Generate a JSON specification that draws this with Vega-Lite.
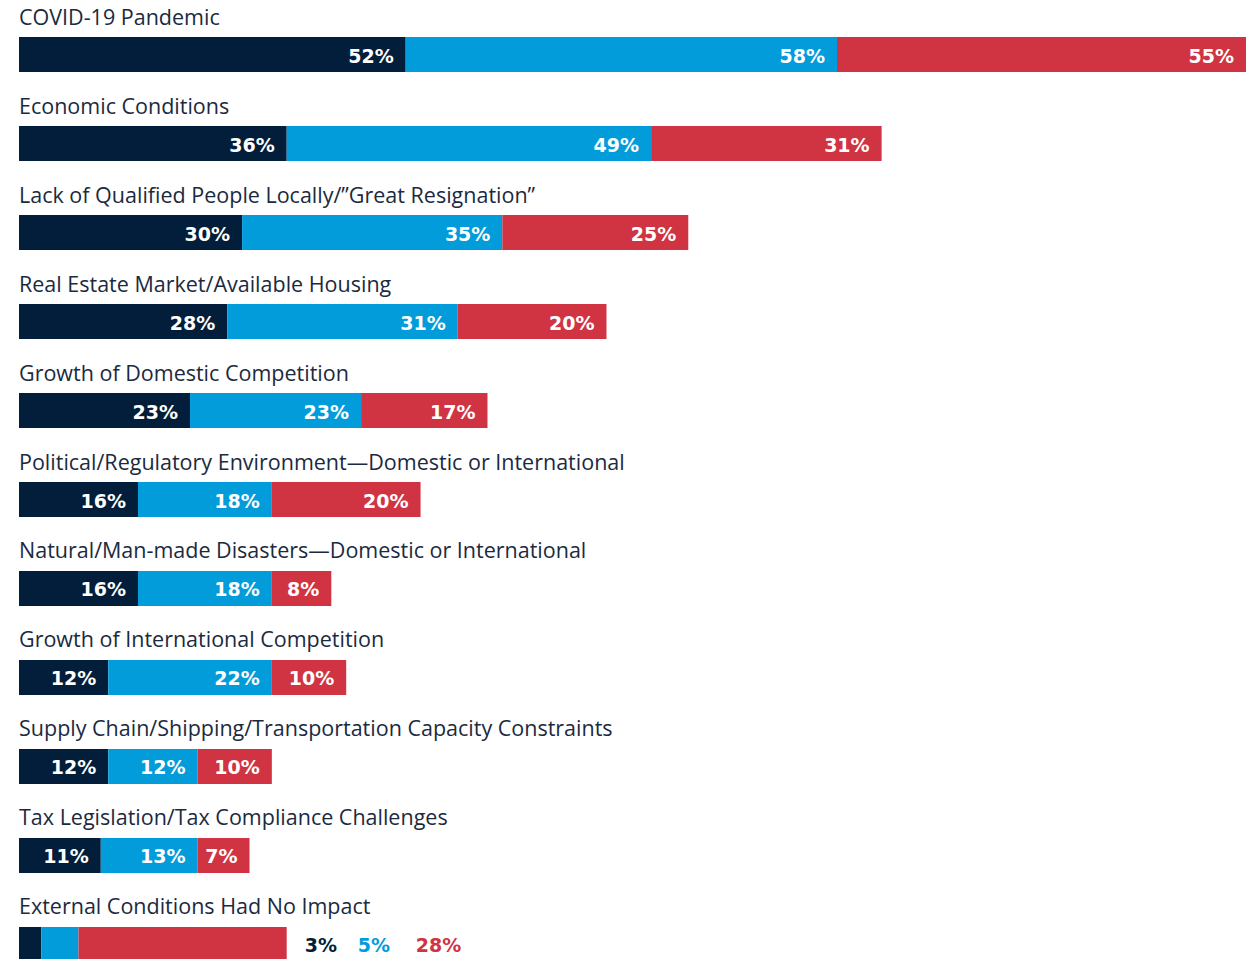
{
  "$schema": "https://vega.github.io/schema/vega-lite/v6.json",
  "width": 1227,
  "height": 999,
  "autosize": {"type": "none"},
  "padding": {"left": 19, "top": 0, "right": 0, "bottom": 0},
  "background": "white",
  "config": {"view": {"stroke": null}},
  "data": {
    "values": [
      {"category": "COVID-19 Pandemic", "series": "Series 1", "order": 1, "value": 52, "inside": true},
      {"category": "COVID-19 Pandemic", "series": "Series 2", "order": 2, "value": 58, "inside": true},
      {"category": "COVID-19 Pandemic", "series": "Series 3", "order": 3, "value": 55, "inside": true},
      {"category": "Economic Conditions", "series": "Series 1", "order": 1, "value": 36, "inside": true},
      {"category": "Economic Conditions", "series": "Series 2", "order": 2, "value": 49, "inside": true},
      {"category": "Economic Conditions", "series": "Series 3", "order": 3, "value": 31, "inside": true},
      {"category": "Lack of Qualified People Locally/\u201dGreat Resignation\u201d", "series": "Series 1", "order": 1, "value": 30, "inside": true},
      {"category": "Lack of Qualified People Locally/\u201dGreat Resignation\u201d", "series": "Series 2", "order": 2, "value": 35, "inside": true},
      {"category": "Lack of Qualified People Locally/\u201dGreat Resignation\u201d", "series": "Series 3", "order": 3, "value": 25, "inside": true},
      {"category": "Real Estate Market/Available Housing", "series": "Series 1", "order": 1, "value": 28, "inside": true},
      {"category": "Real Estate Market/Available Housing", "series": "Series 2", "order": 2, "value": 31, "inside": true},
      {"category": "Real Estate Market/Available Housing", "series": "Series 3", "order": 3, "value": 20, "inside": true},
      {"category": "Growth of Domestic Competition", "series": "Series 1", "order": 1, "value": 23, "inside": true},
      {"category": "Growth of Domestic Competition", "series": "Series 2", "order": 2, "value": 23, "inside": true},
      {"category": "Growth of Domestic Competition", "series": "Series 3", "order": 3, "value": 17, "inside": true},
      {"category": "Political/Regulatory Environment\u2014Domestic or International", "series": "Series 1", "order": 1, "value": 16, "inside": true},
      {"category": "Political/Regulatory Environment\u2014Domestic or International", "series": "Series 2", "order": 2, "value": 18, "inside": true},
      {"category": "Political/Regulatory Environment\u2014Domestic or International", "series": "Series 3", "order": 3, "value": 20, "inside": true},
      {"category": "Natural/Man-made Disasters\u2014Domestic or International", "series": "Series 1", "order": 1, "value": 16, "inside": true},
      {"category": "Natural/Man-made Disasters\u2014Domestic or International", "series": "Series 2", "order": 2, "value": 18, "inside": true},
      {"category": "Natural/Man-made Disasters\u2014Domestic or International", "series": "Series 3", "order": 3, "value": 8, "inside": true},
      {"category": "Growth of International Competition", "series": "Series 1", "order": 1, "value": 12, "inside": true},
      {"category": "Growth of International Competition", "series": "Series 2", "order": 2, "value": 22, "inside": true},
      {"category": "Growth of International Competition", "series": "Series 3", "order": 3, "value": 10, "inside": true},
      {"category": "Supply Chain/Shipping/Transportation Capacity Constraints", "series": "Series 1", "order": 1, "value": 12, "inside": true},
      {"category": "Supply Chain/Shipping/Transportation Capacity Constraints", "series": "Series 2", "order": 2, "value": 12, "inside": true},
      {"category": "Supply Chain/Shipping/Transportation Capacity Constraints", "series": "Series 3", "order": 3, "value": 10, "inside": true},
      {"category": "Tax Legislation/Tax Compliance Challenges", "series": "Series 1", "order": 1, "value": 11, "inside": true},
      {"category": "Tax Legislation/Tax Compliance Challenges", "series": "Series 2", "order": 2, "value": 13, "inside": true},
      {"category": "Tax Legislation/Tax Compliance Challenges", "series": "Series 3", "order": 3, "value": 7, "inside": true},
      {"category": "External Conditions Had No Impact", "series": "Series 1", "order": 1, "value": 3, "inside": false},
      {"category": "External Conditions Had No Impact", "series": "Series 2", "order": 2, "value": 5, "inside": false},
      {"category": "External Conditions Had No Impact", "series": "Series 3", "order": 3, "value": 28, "inside": false}
    ]
  },
  "transform": [
    {"stack": "value", "groupby": ["category"], "sort": [{"field": "order"}], "as": ["x0", "x1"]},
    {"joinaggregate": [{"op": "sum", "field": "value", "as": "total"}], "groupby": ["category"]},
    {"calculate": "datum.value + '%'", "as": "label"}
  ],
  "encoding": {
    "y": {
      "field": "category",
      "type": "nominal",
      "sort": null,
      "axis": null,
      "scale": {"paddingInner": 0.607, "paddingOuter": 0.416}
    }
  },
  "layer": [
    {
      "mark": {"type": "bar"},
      "encoding": {
        "x": {"field": "x0", "type": "quantitative", "axis": null, "scale": {"domain": [0, 165], "nice": false, "zero": true}},
        "x2": {"field": "x1"},
        "color": {
          "field": "series",
          "type": "nominal",
          "legend": null,
          "scale": {"domain": ["Series 1", "Series 2", "Series 3"], "range": ["#031e3a", "#029cdb", "#d03442"]}
        }
      }
    },
    {
      "transform": [{"filter": "datum.inside"}],
      "mark": {"type": "text", "align": "right", "baseline": "alphabetic", "dx": -12, "dy": 8, "font": "DejaVu Sans", "fontWeight": "bold", "fontSize": 19, "color": "white"},
      "encoding": {
        "x": {"field": "x1", "type": "quantitative"},
        "text": {"field": "label"},
        "detail": {"field": "series"}
      }
    },
    {
      "transform": [{"filter": "!datum.inside"}],
      "layer": [
        {
          "transform": [{"filter": "datum.series == 'Series 1'"}],
          "mark": {"type": "text", "align": "left", "baseline": "alphabetic", "dx": 18, "dy": 8, "font": "DejaVu Sans", "fontWeight": "bold", "fontSize": 19, "color": "#031e3a"},
          "encoding": {"x": {"field": "total", "type": "quantitative"}, "text": {"field": "label"}}
        },
        {
          "transform": [{"filter": "datum.series == 'Series 2'"}],
          "mark": {"type": "text", "align": "left", "baseline": "alphabetic", "dx": 71, "dy": 8, "font": "DejaVu Sans", "fontWeight": "bold", "fontSize": 19, "color": "#029cdb"},
          "encoding": {"x": {"field": "total", "type": "quantitative"}, "text": {"field": "label"}}
        },
        {
          "transform": [{"filter": "datum.series == 'Series 3'"}],
          "mark": {"type": "text", "align": "left", "baseline": "alphabetic", "dx": 129, "dy": 8, "font": "DejaVu Sans", "fontWeight": "bold", "fontSize": 19, "color": "#d03442"},
          "encoding": {"x": {"field": "total", "type": "quantitative"}, "text": {"field": "label"}}
        }
      ]
    },
    {
      "transform": [{"filter": "datum.series == 'Series 1'"}],
      "mark": {"type": "text", "align": "left", "baseline": "alphabetic", "dy": -30, "font": "Open Sans", "fontSize": 21.5, "color": "#1b2a40"},
      "encoding": {
        "x": {"datum": 0},
        "text": {"field": "category"}
      }
    }
  ]
}
